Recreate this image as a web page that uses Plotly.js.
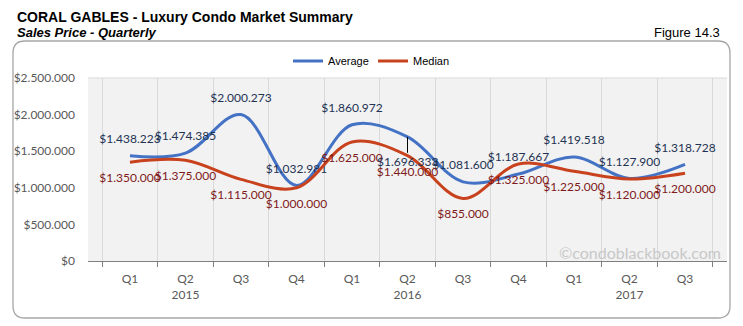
<!DOCTYPE html>
<html>
<head>
<meta charset="utf-8">
<script src="https://cdn.plot.ly/plotly-3.0.1.min.js"></script>
<style>html,body{margin:0;padding:0;background:#fff;}#chart{width:743px;height:326px;}</style>
</head>
<body>
<div id="chart"></div>
<script>
// ---- data ----
var categories = ["2015 Q1","2015 Q2","2015 Q3","2015 Q4","2016 Q1","2016 Q2","2016 Q3","2016 Q4","2017 Q1","2017 Q2","2017 Q3"];
var tickLabels = ["Q1","Q2<br>2015","Q3","Q4","Q1","Q2<br>2016","Q3","Q4","Q1","Q2<br>2017","Q3"];
var averagePrice = [1438223,1474385,2000273,1032981,1860972,1696333,1081600,1187667,1419518,1127900,1318728];
var medianPrice  = [1350000,1375000,1115000,1000000,1625000,1440000,855000,1325000,1225000,1120000,1200000];
var calloutIndex = 5; // Average label drawn below with a leader line

function fmt(v){ return '$' + String(Math.round(v)).replace(/\B(?=(\d{3})+(?!\d))/g, '.'); }

// geometry (pixels)
var W=743,H=326, L=88, R=16, T=78, B=65;
var pw=W-L-R, ph=H-T-B;
function px(x){ return (x-L)/pw; }
function py(y){ return (H-B-y)/ph; }

var avgTemplates = averagePrice.map(function(v,i){ return i===calloutIndex ? '' : '$%{y:,d}'; });

var traces = [
  {x:categories, y:averagePrice, name:'Average', type:'scatter', mode:'lines+markers+text',
   line:{color:'#4472C4', width:3, shape:'spline', smoothing:1},
   marker:{size:14, color:'rgba(0,0,0,0)'},
   texttemplate:avgTemplates, textposition:'top center',
   textfont:{family:'Lato', size:12, color:'#1F3354'}, cliponaxis:false, hoverinfo:'skip'},
  {x:categories, y:medianPrice, name:'Median', type:'scatter', mode:'lines+markers+text',
   line:{color:'#C8421D', width:3, shape:'spline', smoothing:1},
   marker:{size:16, color:'rgba(0,0,0,0)'},
   texttemplate:'$%{y:,d}', textposition:'bottom center',
   textfont:{family:'Lato', size:12, color:'#7F1A1A'}, cliponaxis:false, hoverinfo:'skip'}
];

// rounded border path
var bx0=13,bx1=730,by0=41,by1=318,r=12;
var path = 'M'+px(bx0+r)+','+py(by0)+
  ' L'+px(bx1-r)+','+py(by0)+' Q'+px(bx1)+','+py(by0)+' '+px(bx1)+','+py(by0+r)+
  ' L'+px(bx1)+','+py(by1-r)+' Q'+px(bx1)+','+py(by1)+' '+px(bx1-r)+','+py(by1)+
  ' L'+px(bx0+r)+','+py(by1)+' Q'+px(bx0)+','+py(by1)+' '+px(bx0)+','+py(by1-r)+
  ' L'+px(bx0)+','+py(by0+r)+' Q'+px(bx0)+','+py(by0)+' '+px(bx0+r)+','+py(by0)+' Z';

var layout = {
  width:W, height:H, margin:{l:L, r:R, t:T, b:B, pad:0},
  paper_bgcolor:'#ffffff', plot_bgcolor:'#F2F2F2',
  separators:',.',
  showlegend:true,
  legend:{orientation:'h', x:px(288), xanchor:'left', y:py(61), yanchor:'middle',
          font:{family:'Liberation Sans', size:11, color:'#000'}, bgcolor:'rgba(0,0,0,0)',
          itemwidth:30, entrywidth:40, entrywidthmode:'pixels'},
  xaxis:{type:'category', tickson:'boundaries', tickvals:categories, ticktext:tickLabels,
         showgrid:true, gridcolor:'#D9D9D9', gridwidth:1,
         showline:true, linecolor:'#7F7F7F', linewidth:1,
         ticks:'outside', ticklen:5, tickcolor:'#7F7F7F', ticklabelstandoff:7,
         tickfont:{family:'Lato', size:12, color:'#595959'}, fixedrange:true},
  yaxis:{range:[0,2500000], dtick:500000, tick0:0, tickprefix:'$', tickformat:',d',
         showgrid:false, zeroline:false, showline:false, ticks:'', ticklabelstandoff:12,
         tickfont:{family:'Lato', size:12, color:'#595959'}, fixedrange:true},
  shapes:[
    {type:'path', xref:'paper', yref:'paper', path:path, line:{color:'#A6A6A6', width:1.3}, layer:'below'},
    {type:'line', xref:'paper', yref:'paper', x0:0, x1:1, y0:1, y1:1, line:{color:'#D9D9D9', width:1}}
  ],
  annotations:[
    {xref:'paper', yref:'paper', x:px(15), y:py(17), xanchor:'left', yanchor:'middle', showarrow:false,
     text:'<b>CORAL GABLES - Luxury Condo Market Summary</b>', font:{family:'Liberation Sans', size:14, color:'#000'}},
    {xref:'paper', yref:'paper', x:px(15), y:py(33), xanchor:'left', yanchor:'middle', showarrow:false,
     text:'<b><i>Sales Price - Quarterly</i></b>', font:{family:'Liberation Sans', size:13, color:'#000'}},
    {xref:'paper', yref:'paper', x:px(722), y:py(33), xanchor:'right', yanchor:'middle', showarrow:false,
     text:'Figure 14.3', font:{family:'Liberation Sans', size:13, color:'#000'}},
    {xref:'paper', yref:'paper', x:px(723), y:py(252), xanchor:'right', yanchor:'middle', showarrow:false,
     text:'©condoblackbook.com', font:{family:'Lato', size:16, color:'#C8C8C8'}},
    {x:categories[calloutIndex], y:averagePrice[calloutIndex], xref:'x', yref:'y',
     text:fmt(averagePrice[calloutIndex]), showarrow:true, arrowhead:0, arrowwidth:1, arrowcolor:'#000',
     ax:0, ay:25, standoff:0, font:{family:'Lato', size:12, color:'#1F3354'}}
  ]
};

Plotly.newPlot('chart', traces, layout, {staticPlot:true, displayModeBar:false});
</script>
</body>
</html>
